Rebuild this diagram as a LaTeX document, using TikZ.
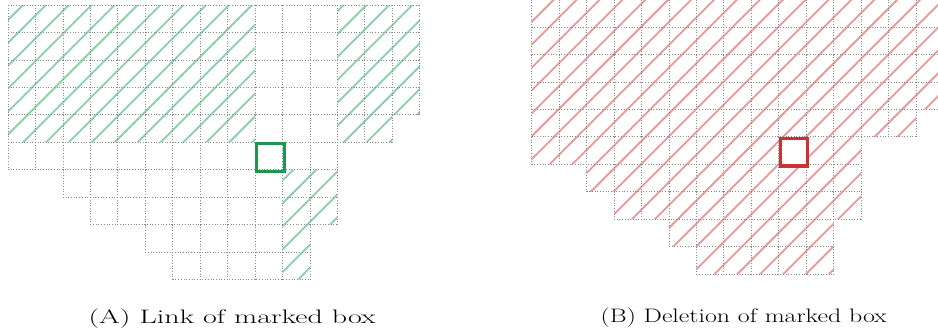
\documentclass[tikz,border=0pt]{standalone}
\usepackage{graphicx}
\definecolor{gridgray}{RGB}{140,140,140}
\definecolor{hatchgreen}{RGB}{140,206,166}
\definecolor{boxgreen}{RGB}{30,150,80}
\definecolor{hatchred}{RGB}{232,152,152}
\definecolor{boxred}{RGB}{208,48,48}
\tikzset{
  cellgrid/.style={draw=gridgray, line width=0.8pt, dash pattern=on 0.8pt off 1.9pt},
  hatchline/.style={line width=1.8pt},
  markbox/.style={line width=3.2pt, minimum size=27.45pt, inner sep=0pt, anchor=north west},
  caption/.style={inner sep=0pt, anchor=base west},
}
\newcommand{\cs}{27.45}
\newcommand{\mycapfont}{\fontsize{19.5}{23}\selectfont}
% draws the dotted Young diagram grid in the current scope
\newcommand{\yngrid}{%
  \draw[cellgrid] (0,0) -- (15*\cs,0);
  \foreach \r/\a/\b in {0/0/15,1/0/15,2/0/15,3/0/15,4/0/14,5/0/12,6/2/12,7/3/12,8/5/11,9/6/11}{
    \draw[cellgrid] (\a*\cs,{(\r+1)*\cs}) -- (\b*\cs,{(\r+1)*\cs});
    \foreach \c in {\a,...,\b}{
      \draw[cellgrid] (\c*\cs,\r*\cs) -- (\c*\cs,{(\r+1)*\cs});
    }
  }%
}
\begin{document}
\begin{tikzpicture}[x=1pt,y=-1pt]
\useasboundingbox (0,0) rectangle (938,330);

% ---------- (A) ----------
\begin{scope}[shift={(8,5)}]
  \begin{scope}
    \clip (0,0) rectangle (9*\cs,5*\cs)
          (12*\cs,0) rectangle (15*\cs,4*\cs)
          (12*\cs,4*\cs) rectangle (14*\cs,5*\cs)
          (10*\cs,6*\cs) rectangle (12*\cs,8*\cs)
          (10*\cs,8*\cs) rectangle (11*\cs,10*\cs);
    \foreach \k in {0,...,32}{
      \draw[hatchline, hatchgreen] ({15+22.9*\k+20},-20) -- ++(-340,340);
    }
  \end{scope}
  \yngrid
  \node[markbox, draw=boxgreen] (markA) at (9*\cs,5*\cs) {};
\end{scope}

% ---------- (B) ----------
\begin{scope}[shift={(531.7,-0.4)}]
  \begin{scope}
    \clip (0,0) rectangle (15*\cs,4*\cs)
          (0,4*\cs) rectangle (14*\cs,5*\cs)
          (0,5*\cs) rectangle (9*\cs,6*\cs)
          (10*\cs,5*\cs) rectangle (12*\cs,6*\cs)
          (2*\cs,6*\cs) rectangle (12*\cs,7*\cs)
          (3*\cs,7*\cs) rectangle (12*\cs,8*\cs)
          (5*\cs,8*\cs) rectangle (11*\cs,9*\cs)
          (6*\cs,9*\cs) rectangle (11*\cs,10*\cs);
    \foreach \k in {0,...,32}{
      \draw[hatchline, hatchred] ({22.2+22.9*\k+20},-20) -- ++(-340,340);
    }
  \end{scope}
  \yngrid
  \node[markbox, draw=boxred] (markB) at (9*\cs,5*\cs) {};
\end{scope}

% ---------- captions ----------
\node[caption] (capA) at (88.3,323) {\resizebox{287pt}{\height}{\mycapfont (A) Link of marked box}};
\node[caption] (capB) at (600.5,322.5) {\resizebox{286pt}{\height}{\mycapfont (B) Deletion of marked box}};
\end{tikzpicture}
\end{document}
